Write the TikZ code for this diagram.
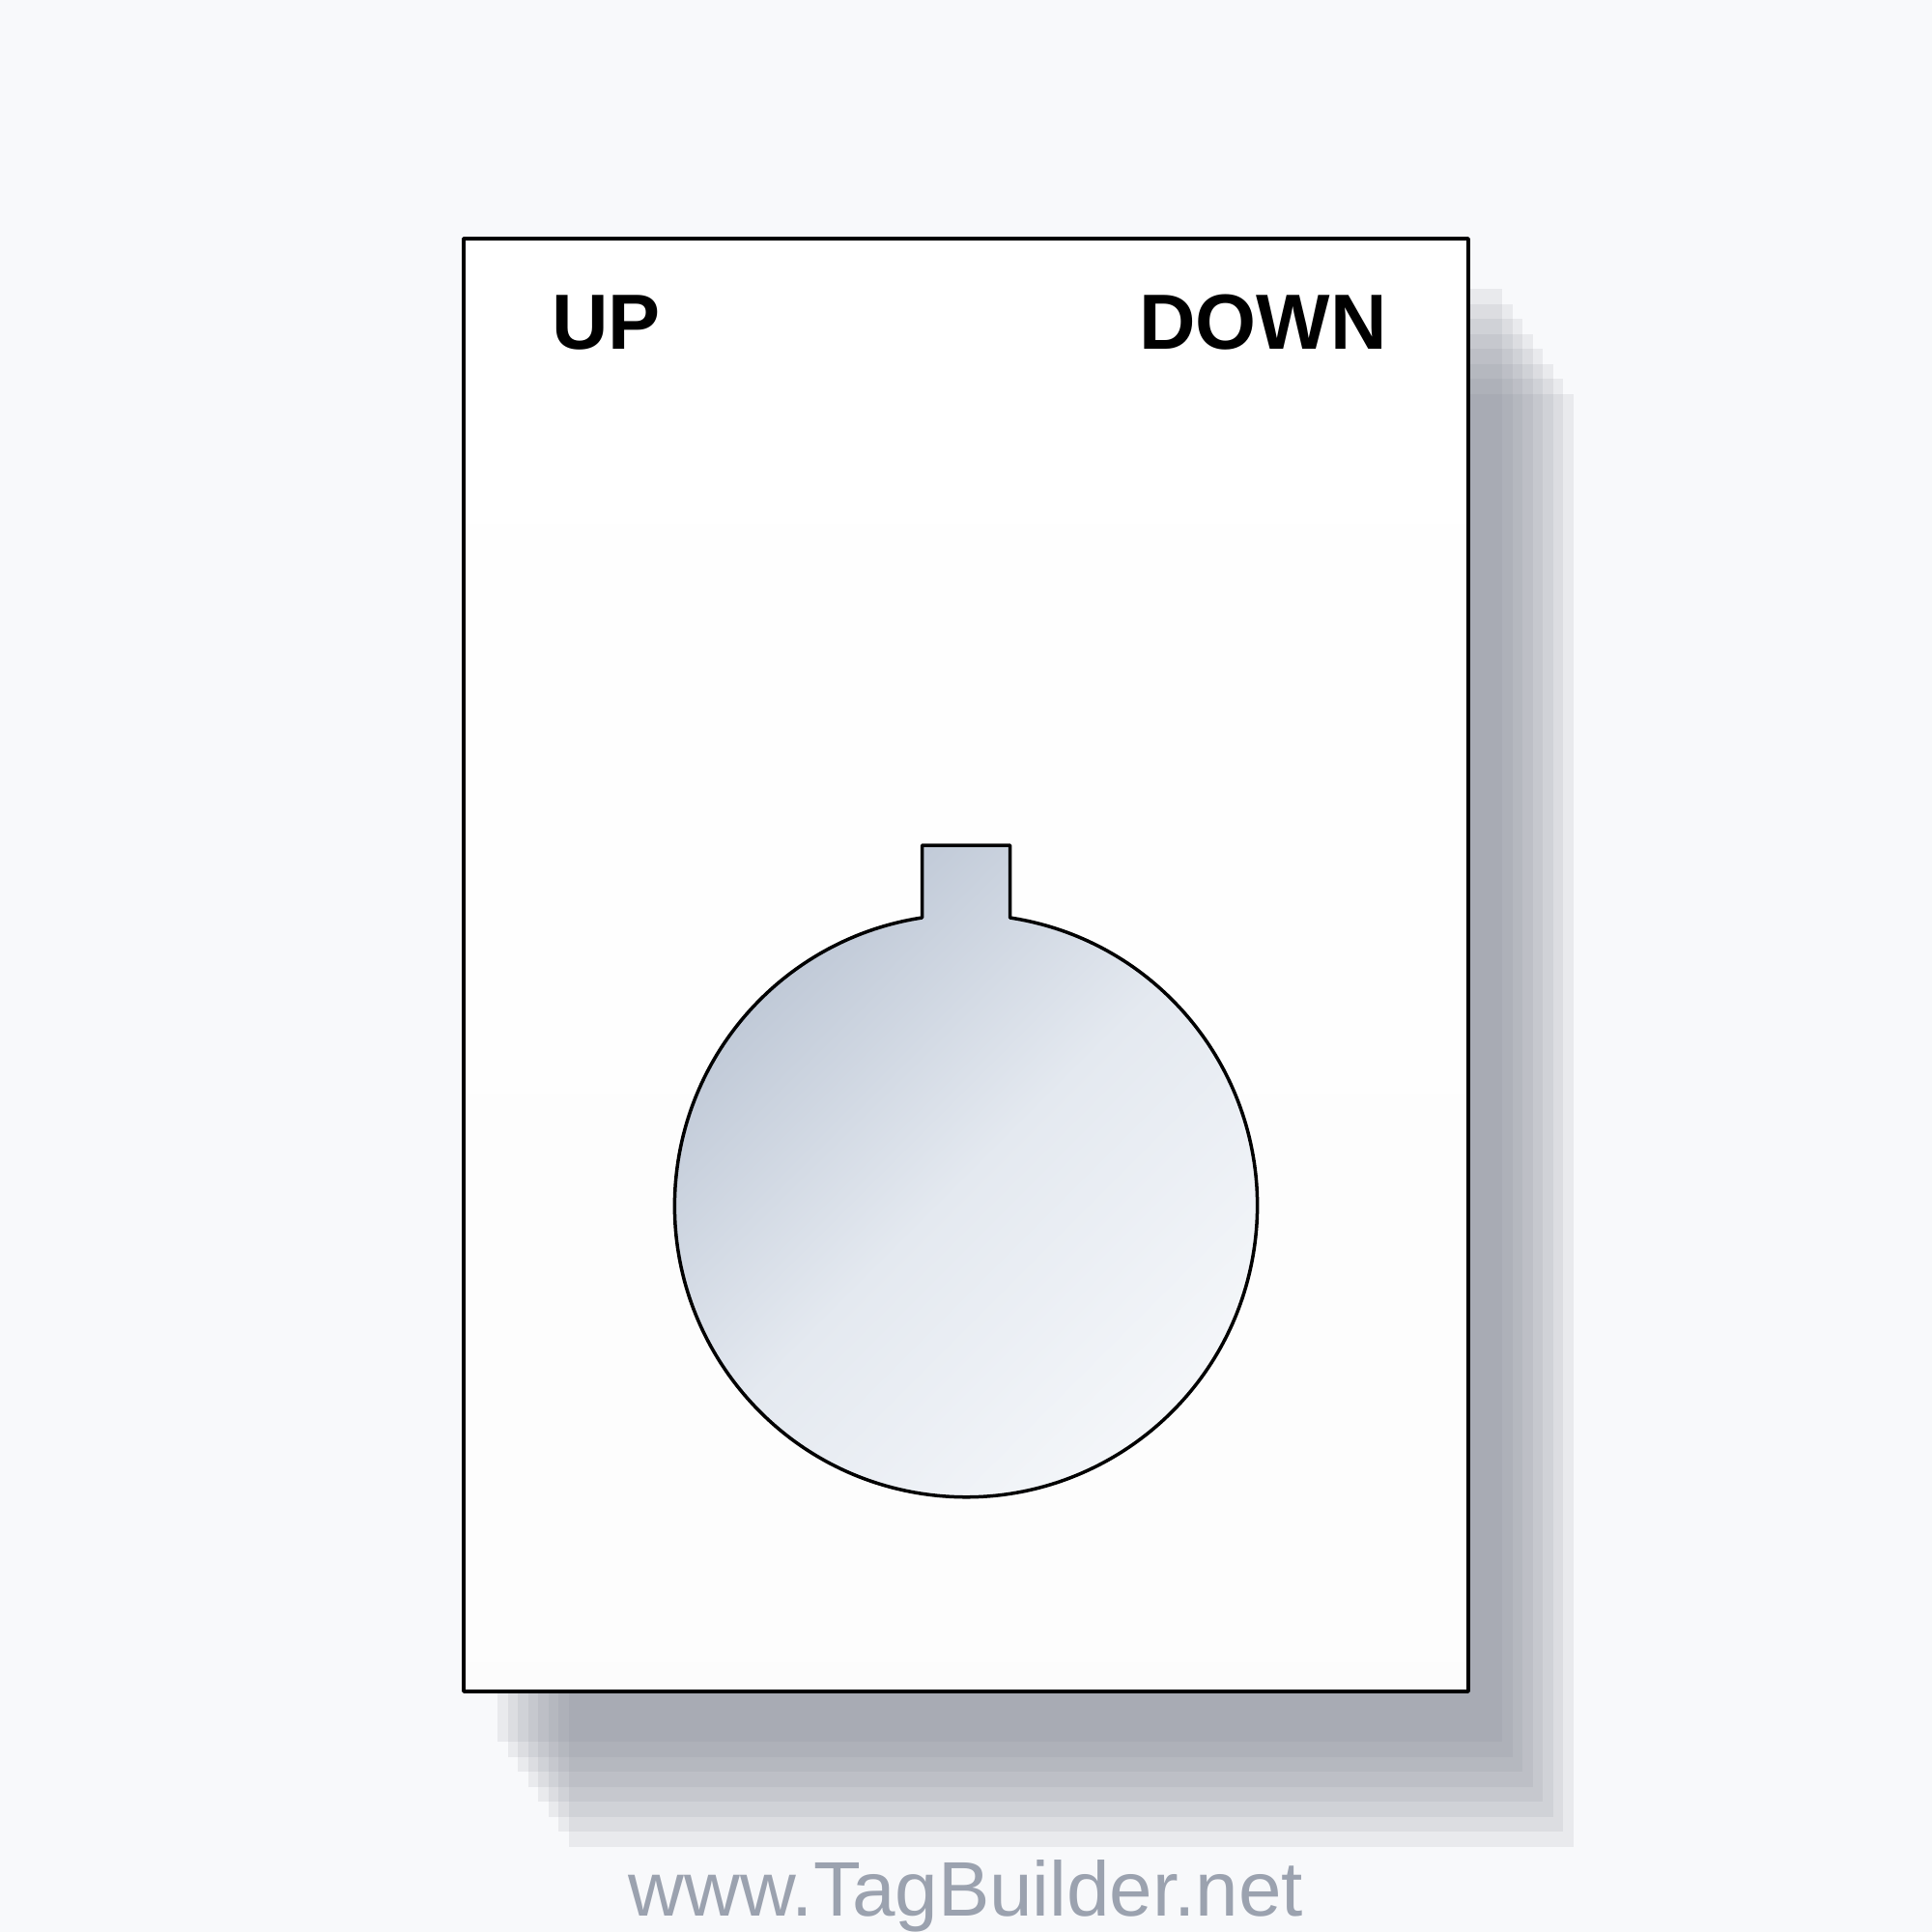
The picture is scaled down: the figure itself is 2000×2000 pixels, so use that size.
\documentclass[tikz,border=0pt]{standalone}
\usepackage{fontspec}
\setmainfont{Liberation Sans}
\usetikzlibrary{positioning}
\usetikzlibrary{calc}
\definecolor{pagebg}{RGB}{248,249,251}
\definecolor{shadowgray}{RGB}{133,137,150}
\definecolor{knobdark}{RGB}{186,196,211}
\definecolor{knobmid}{RGB}{228,233,240}
\definecolor{knoblight}{RGB}{245,247,250}
\definecolor{urlgray}{RGB}{155,162,175}
\tikzset{
  plate/.style={rectangle, draw=black, line width=3.5pt, line join=round,
    top color=white, bottom color=black!1,
    minimum width=1040pt, minimum height=1504pt, inner sep=0pt, outer sep=0pt},
  shadowlayer/.style={fill=shadowgray, fill opacity=.13},
  legend/.style={inner sep=0pt, font=\fontsize{81}{90}\selectfont\bfseries},
  url/.style={inner sep=0pt, text=urlgray, font=\fontsize{80}{90}\selectfont},
  knob/.style={draw=black, line width=3.5pt, line join=round,
    top color=knobdark, bottom color=knoblight, middle color=knobmid,
    shading angle=45},
}

\begin{document}
\begin{tikzpicture}[x=1pt, y=-1pt]

	% page
	\fill[pagebg] (0,0) rectangle (2000,2000);
	\useasboundingbox (0,0) rectangle (2000,2000);

	% plate corner
	\coordinate (PNW) at (480,247);

	% shadow layers
	\foreach \i in {0,...,7}
	\fill[shadowlayer] ($(PNW)+(35+10.5*\i,52+15.5*\i)$) rectangle +(1040,1504);

	% plate
	\node[plate, anchor=north west] (plate) at (PNW) {};

	% legends
	\node[legend, anchor=base west] (up) at (571,361) {UP};
	\node[legend, anchor=base east] (down) at (1436,361) {DOWN};

	% knob hole with key tab
	\coordinate (knob) at (1000,1248);
	\draw[knob] ($(knob)+(-45.5,-298)$) -- ++(0,-75) -- ++(91,0) -- ++(0,75)
	  arc[start angle=-81.32, end angle=261.32, radius=301.6] -- cycle;

	% site name
	\node[url, anchor=base] (site) at (1000,1983) {www.TagBuilder.net};

\end{tikzpicture}
\end{document}
